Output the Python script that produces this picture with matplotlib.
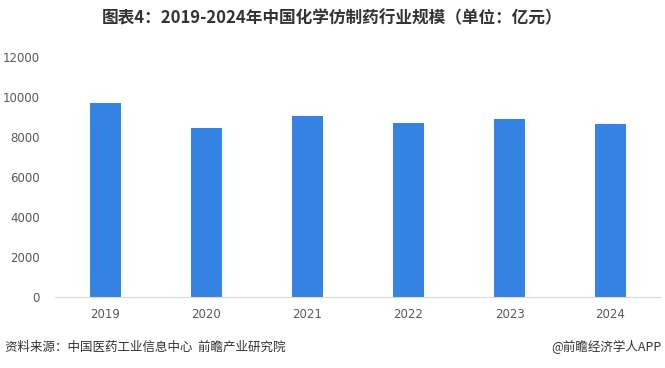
import matplotlib.pyplot as plt

plt.rcParams['font.family'] = ['Noto Sans CJK SC', 'DejaVu Sans']

years = ['2019', '2020', '2021', '2022', '2023', '2024']
scale = [9700, 8450, 9060, 8720, 8900, 8650]

fig = plt.figure(figsize=(6.65, 3.68), dpi=100)
ax = fig.add_axes([55 / 665, 71 / 368, 606 / 665, 240 / 368])

ax.bar(range(len(years)), scale, width=0.3, color='#3584e4')

ax.set_xlim(-0.5, len(years) - 0.5)
ax.set_ylim(0, 12000)
ax.set_yticks(range(0, 12001, 2000))
ax.set_xticks(range(len(years)))
ax.set_xticklabels(years)
ax.tick_params(axis='both', length=0, labelsize=8.5, labelcolor='#595959')
ax.tick_params(axis='x', pad=8)
ax.tick_params(axis='y', pad=11)
for lab in ax.get_xticklabels() + ax.get_yticklabels():
    lab.set_family('DejaVu Sans')

for side in ['top', 'right', 'left']:
    ax.spines[side].set_visible(False)
ax.spines['bottom'].set_color('#d9d9d9')

fig.text(0.5, 1 - 18 / 368, '图表4：2019-2024年中国化学仿制药行业规模（单位：亿元）',
         ha='center', va='center', fontsize=12, fontweight='bold', color='#333333')
fig.text(5 / 665, 1 - 347 / 368, '资料来源：中国医药工业信息中心  前瞻产业研究院',
         ha='left', va='center', fontsize=9, color='#333333')
fig.text(662 / 665, 1 - 347 / 368, '@前瞻经济学人APP',
         ha='right', va='center', fontsize=9, color='#333333')

fig.savefig('out.png', dpi=100)
